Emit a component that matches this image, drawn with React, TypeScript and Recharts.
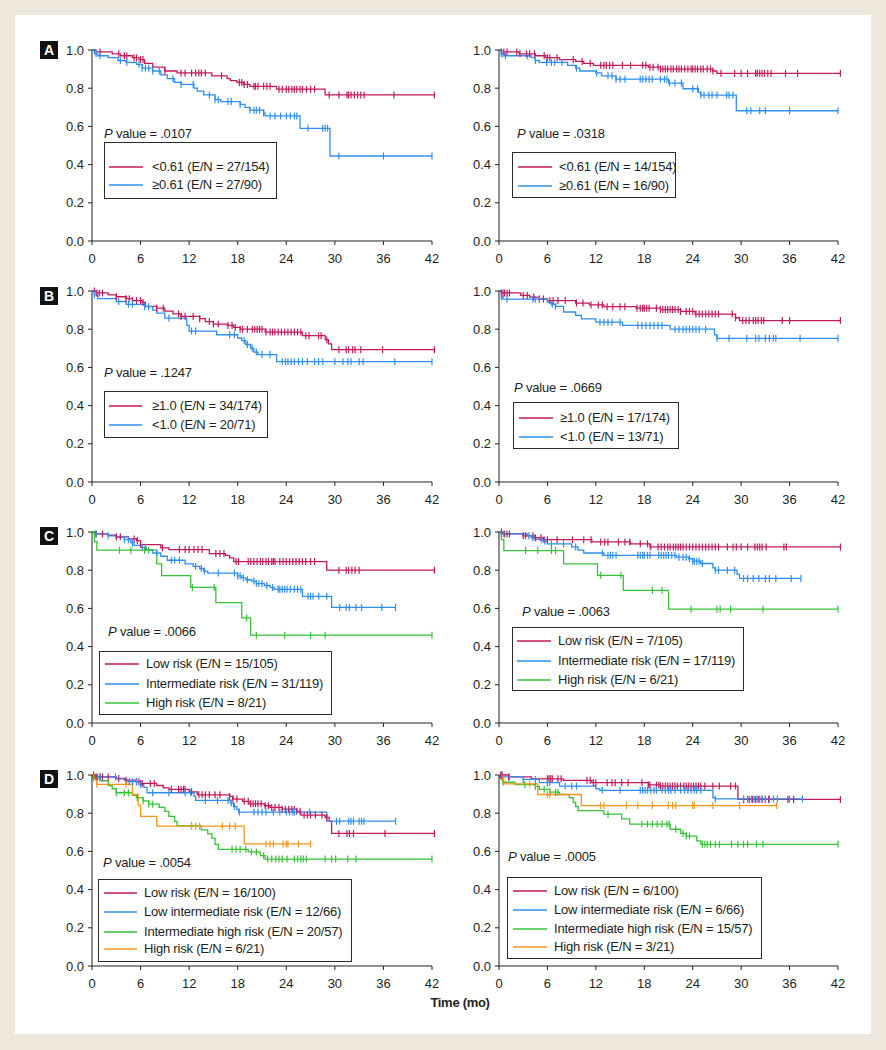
import React from 'react';
import { LineChart, Line, XAxis, YAxis, ReferenceLine } from 'recharts';

// Kaplan-Meier curves: [time (mo), survival] at each drop, plus censor times
const aLowL_steps = [[0.5,0.99],[2.5,0.98],[3.5,0.97],[5,0.96],[5.8,0.95],[6.5,0.93],[7.5,0.91],[9,0.89],[10.5,0.88],[14.8,0.865],[16.7,0.85],[17.1,0.84],[17.9,0.83],[18.7,0.82],[19.5,0.81],[22.8,0.795],[28.8,0.765]];
const aLowL_cens = [1,3.3,4,4.3,5.2,5.5,6,6.3,9,11,11.5,12.3,12.8,13.2,13.5,14,16,18.2,18.5,18.8,19.2,20,20.2,20.5,21.2,21.6,22,23.1,23.5,24,24.3,24.7,25,25.3,25.7,26,26.5,27,27.5,29.3,30.5,31.5,31.7,32,32.4,32.8,33.2,33.6,37.3,42.3];
const aHighL_steps = [[0.3,0.98],[0.7,0.97],[2,0.96],[3.2,0.945],[4.2,0.935],[5.5,0.925],[6.2,0.905],[7.5,0.89],[8.5,0.87],[9.3,0.85],[10.2,0.83],[11,0.82],[12.6,0.8],[13,0.785],[13.8,0.765],[15.2,0.74],[15.9,0.73],[18.3,0.715],[18.9,0.7],[19.5,0.685],[21.2,0.67],[21.4,0.655],[25.7,0.59],[29.4,0.445]];
const aHighL_cens = [0.5,1,3.5,4.3,5.8,6.2,6.6,7,7.5,8.3,10,11,12.5,14.5,15.2,15.6,16.8,17.2,18.3,19.5,20,20.3,20.7,21.2,22,22.6,23.3,24,24.5,25,25.3,26.7,28.5,28.8,29.1,30.5,36,42];

const aLowR_steps = [[0.3,0.99],[2.5,0.98],[4.5,0.97],[5.8,0.96],[7.5,0.95],[9.5,0.94],[10.5,0.93],[11.7,0.92],[18.5,0.91],[20,0.9],[26.5,0.89],[27,0.878]];
const aLowR_cens = [0.3,0.6,1,2.2,2.6,3.4,3.8,4.4,5.6,6,6.3,7.2,9.2,10.3,11.3,12.6,13,13.3,13.7,14.1,15.3,16.3,17.8,18.2,18.7,19.1,19.7,20,20.3,20.6,20.9,21.3,21.6,22,22.3,22.6,23,23.4,23.8,24,24.3,24.6,25,25.3,25.8,26.2,26.5,27.5,29.2,30,30.8,31.8,32,32.3,32.6,32.9,33.3,33.7,35.5,37,42.3];
const aHighR_steps = [[0.3,0.98],[0.7,0.97],[4,0.96],[4.5,0.945],[5,0.935],[8.5,0.92],[9.5,0.905],[10,0.89],[12,0.88],[12.7,0.865],[14.5,0.847],[21,0.827],[22.8,0.797],[24.7,0.778],[25,0.764],[29.4,0.682]];
const aHighR_cens = [0.3,0.5,0.8,3.5,4.5,5.9,6.5,6.9,7.8,9.6,12.1,13.5,14,14.5,15,15.6,17.5,17.8,18.2,18.6,19,20,20.5,20.8,21.1,21.8,22.6,24,24.6,25,25.4,26,26.4,27,28.2,28.5,29,30.7,31.2,32.3,33,36,42];

const bHighL_steps = [[0.5,0.99],[2,0.98],[3,0.97],[4.2,0.96],[5,0.95],[6.2,0.94],[6.6,0.92],[8,0.91],[9,0.895],[10,0.88],[11,0.867],[13.3,0.855],[14,0.84],[15,0.827],[16.7,0.82],[17.5,0.81],[18.3,0.8],[21.4,0.785],[26,0.766],[28.8,0.745],[29.2,0.723],[29.6,0.693]];
const bHighL_cens = [0.3,0.6,0.9,1.3,3,4.2,4.6,5,5.5,6,6.3,8,8.8,10.7,11,11.5,12.5,13.3,14.5,15,15.6,16.8,17.3,17.7,18.3,18.6,19.2,19.8,20.1,20.4,20.7,21,21.5,22,22.3,22.6,23,23.4,23.8,24.2,24.6,25,25.4,25.8,26.4,26.8,28,28.3,29,30.5,31.4,31.7,32.2,32.5,33.2,35.9,42.3];
const bLowL_steps = [[0.3,0.98],[0.7,0.96],[3,0.945],[4.2,0.93],[6.5,0.918],[7.5,0.9],[8,0.884],[9,0.858],[11.7,0.82],[12,0.79],[15.4,0.771],[18,0.754],[18.5,0.74],[19,0.72],[19.6,0.7],[20,0.68],[20.5,0.667],[22.8,0.63]];
const bLowL_cens = [0.3,3.3,4.5,5,6.5,7,9.5,12.3,12.8,17,17.6,18.8,19.2,19.8,20.3,21,22,23.5,23.9,24.2,24.6,25,25.5,26,26.6,27.5,28,28.5,30,31,31.6,32,33,33.5,37.4,42];

const bHighR_steps = [[0.3,0.99],[2.7,0.977],[3.8,0.968],[5,0.958],[6,0.95],[9.5,0.937],[11.2,0.927],[13,0.918],[17,0.91],[20,0.903],[22.5,0.893],[24.3,0.879],[29.3,0.86],[29.8,0.845]];
const bHighR_cens = [0.3,0.5,0.7,1,1.3,3,3.5,4.3,5,5.5,6.3,6.7,7.3,8.2,9.6,10.4,11.4,12.3,12.8,13.4,14.1,15,15.6,17.1,17.5,17.8,18,18.3,18.6,19.5,20,20.3,20.6,20.9,21.2,21.5,21.8,22.2,22.5,23.2,23.6,24,24.4,24.8,25.2,25.6,26,26.4,26.8,27.2,28.9,29.3,30.2,30.6,31,31.5,31.8,32.1,32.5,32.8,35.1,36,42.3];
const bLowR_steps = [[0.3,0.97],[0.5,0.957],[6,0.94],[6.5,0.93],[7,0.92],[8,0.89],[9.5,0.872],[10.2,0.854],[12,0.837],[15.3,0.82],[21.2,0.8],[26.7,0.77],[27,0.752]];
const bLowR_cens = [0.3,1,4.2,4.5,5,6.6,7,12.5,13,13.5,14,15,17.2,17.7,18.2,18.7,19.2,19.7,20.2,21.8,22.3,22.8,23.2,23.6,24,24.4,24.8,25.6,27,28.5,30.7,31.8,32.2,33,33.5,34,34.3,37.3,42];

const cLowL_steps = [[0.5,0.99],[2,0.983],[3,0.975],[4.5,0.964],[5.5,0.955],[6,0.934],[8.5,0.917],[9.5,0.908],[14.5,0.887],[16.5,0.878],[17,0.865],[17.5,0.845],[29,0.8]];
const cLowL_cens = [0.5,1.3,3,3.5,5.2,5.6,6,8.7,10.8,11.5,12,12.6,13.1,13.6,15.3,15.8,16.3,17.8,18.1,19.3,19.6,20,20.4,20.8,21.1,21.5,21.8,22.2,22.4,22.6,23.2,23.6,24,24.4,24.8,25.2,25.6,26,26.4,27,27.5,30.5,31.4,31.7,32.1,32.5,33,42.3];
const cIntL_steps = [[0.3,0.99],[2,0.98],[3,0.972],[4,0.96],[4.8,0.943],[5.2,0.93],[6,0.92],[6.7,0.908],[7.5,0.89],[8.5,0.873],[9.3,0.852],[11.5,0.833],[12.5,0.82],[13.3,0.809],[13.8,0.795],[14.3,0.785],[18,0.77],[18.5,0.76],[19,0.75],[19.7,0.743],[20.3,0.73],[21.3,0.72],[22,0.71],[22.5,0.7],[26,0.663],[29.6,0.605]];
const cIntL_cens = [0.5,2,4,4.5,5,6.2,6.6,8,9.8,10.2,10.8,12.8,13.5,13.9,15.6,17.6,18,18.3,18.7,19.2,20,20.3,20.6,21,21.6,22.3,23,23.2,23.5,23.8,24.1,24.5,25,25.4,25.8,26.7,27,27.3,28,29,30.6,31.4,31.8,32.6,33.3,35.8,37.5];
const cHighL_steps = [[0.3,0.95],[0.6,0.905],[8,0.833],[8.6,0.772],[12.2,0.71],[15.3,0.63],[18.5,0.55],[19.6,0.46]];
const cHighL_cens = [3.4,4.8,6.5,7,12.4,15.1,19.1,20.3,23.8,27,28.8,42];

const cLowR_steps = [[0.5,0.99],[3,0.98],[4.5,0.97],[5.5,0.96],[11.5,0.948],[16.3,0.938],[18.7,0.922]];
const cLowR_cens = [0.3,0.7,1,1.3,3,3.3,4.2,4.5,5.2,5.6,6,7.2,9.1,10.5,11.4,12.6,13.1,13.5,14.8,15.6,16.2,17.5,18.4,18.8,19.7,20.1,20.5,20.9,21.2,21.6,21.9,22.2,22.5,22.8,23.2,23.6,24,24.4,24.8,25.2,25.6,26,26.4,26.8,27.2,28.3,29,29.4,30,30.8,31.7,32,32.3,32.6,33.1,35.3,35.6,42.3];
const cIntR_steps = [[0.3,0.99],[3.5,0.98],[4,0.97],[4.5,0.96],[5.5,0.951],[6,0.938],[9,0.922],[9.8,0.905],[10.5,0.89],[13,0.878],[22,0.868],[23.5,0.86],[24,0.847],[25,0.835],[26.5,0.812],[26.8,0.8],[29.5,0.778],[29.8,0.757]];
const cIntR_cens = [0.3,0.6,3.7,4.2,5.3,5.7,6.5,8,9.5,12.8,13.5,13.8,14.1,14.5,17.2,17.5,17.8,18,18.4,18.7,19.8,20.1,20.4,20.7,21,21.4,21.8,22.3,22.8,23.2,23.6,24,24.2,24.5,24.8,25.2,26.8,27.2,28.3,29.2,30.3,30.8,31.5,32.2,33,33.5,34.3,36.2,37.4];
const cHighR_steps = [[0.3,0.96],[0.6,0.903],[8,0.833],[12.2,0.773],[15.4,0.694],[21,0.596]];
const cHighR_cens = [3.3,4.8,6.5,7,12.6,15.1,19,20.2,23.8,27,27.4,28.7,32.7,42];

const dLowL_steps = [[0.5,0.99],[3,0.982],[4,0.973],[5.5,0.965],[6,0.956],[8,0.945],[8.8,0.933],[9.5,0.925],[12,0.912],[13,0.896],[17,0.888],[17.4,0.874],[18.6,0.862],[19.4,0.849],[21.3,0.839],[22,0.83],[23.5,0.821],[25.3,0.81],[25.8,0.79],[28.8,0.778],[29.3,0.757],[29.6,0.694]];
const dLowL_cens = [0.2,0.5,1,1.3,2,3.3,4.2,5.5,5.8,6,6.2,7.2,7.7,9.8,10.7,11,11.3,11.5,12.3,13.2,13.6,14,14.5,15.2,15.8,17,17.4,17.9,18.8,19.3,19.6,19.9,20.2,20.5,20.9,21.4,21.8,22.2,22.6,23.1,23.5,23.9,24.3,24.7,25,25.3,25.7,26.2,26.6,27,27.6,28.4,29,30.5,31.5,31.8,32.3,36.2,42.3];
const dLowIntL_steps = [[0.5,0.99],[3,0.98],[4.3,0.965],[6,0.95],[6.4,0.935],[6.8,0.907],[12.6,0.888],[12.8,0.867],[17.1,0.853],[17.5,0.835],[17.9,0.82],[18.1,0.806],[29,0.758]];
const dLowIntL_cens = [0.7,1,2.9,4.6,5,5.5,6,7.5,9.5,11.5,12.2,14,15.5,16.8,17.2,17.6,18.2,20,20.5,21,21.5,22.4,23.2,24,24.4,24.8,25,26.9,30.2,30.6,31.7,32,32.3,33,33.3,33.6,37.5];
const dIntHighL_steps = [[0.1,0.986],[1,0.97],[2,0.945],[2.5,0.928],[3,0.907],[5,0.893],[5.5,0.882],[6.3,0.865],[7,0.847],[8.3,0.83],[9,0.81],[9.5,0.783],[10.2,0.757],[10.5,0.735],[13.5,0.713],[14.3,0.692],[14.8,0.67],[15.2,0.637],[15.6,0.611],[19.3,0.597],[20.8,0.578],[21.4,0.56]];
const dIntHighL_cens = [0.2,3,4,4.5,5.6,6.3,7,7.5,12.3,17.3,17.8,18.3,19,19.7,20.3,21.2,21.7,22.2,22.7,23.1,23.5,24.1,25,25.4,25.8,26.1,26.5,28.8,29.6,30.1,31.6,32.6,42];
const dHighL_steps = [[0.3,0.98],[0.6,0.951],[5,0.898],[5.7,0.842],[6,0.783],[8,0.732],[18.8,0.639]];
const dHighL_cens = [0.6,4.2,12.3,12.8,13.3,16.1,17,17.7,21.5,22,22.4,23.6,24,24.2,25.5,27];

const dLowR_steps = [[1.2,0.99],[4,0.98],[8,0.972],[11.5,0.96],[18.5,0.948],[20,0.942],[29.6,0.872]];
const dLowR_cens = [0.2,0.4,1.2,6,6.2,6.4,6.6,7.3,7.7,10.9,11.3,11.7,12,13.4,14,14.4,15.2,16,17.7,18.5,18.7,19.5,19.8,20,20.3,20.6,20.9,21.2,21.5,21.8,22.1,22.5,22.9,23.2,23.5,23.8,24.1,24.4,24.7,25,25.5,26.5,27.3,28.7,29.3,30.3,31,31.4,31.8,32.2,32.6,33,33.4,35.8,36.5,42.3];
const dLowIntR_steps = [[0.5,0.99],[3,0.977],[5,0.96],[7.5,0.942],[12,0.928],[12.5,0.92],[26.5,0.88],[26.8,0.875]];
const dLowIntR_cens = [0.3,1.3,3,4.5,6,6.3,8.2,9,9.6,12.8,15,17.5,17.8,18.1,18.4,18.8,19.2,19.5,20.2,20.6,21,21.3,21.8,22.5,23,23.4,23.8,24.2,24.5,25,26.8,30.3,30.8,31.3,31.6,32,32.3,32.6,33,33.5,34,34.5,36,37.6];
const dIntHighR_steps = [[0.1,0.985],[0.3,0.975],[0.5,0.962],[2,0.95],[4.5,0.94],[5,0.925],[6.3,0.91],[7.5,0.898],[8.7,0.881],[9.2,0.856],[9.5,0.835],[9.8,0.814],[13,0.795],[15.2,0.77],[16.2,0.743],[21.2,0.716],[22.5,0.694],[23.2,0.68],[24.5,0.655],[25,0.637]];
const dIntHighR_cens = [0.5,3.2,4.5,5.6,6.3,7,7.3,13.5,17.7,18.4,19,19.6,20.2,20.8,21.1,21.9,22.8,23.2,23.6,25.2,25.5,25.8,26.2,26.8,27.3,28.8,29.6,30.3,30.8,31.9,32.7,42];
const dHighR_steps = [[0.3,0.98],[0.6,0.954],[4.8,0.898],[10.2,0.84]];
const dHighR_cens = [0.5,3.8,6,6.3,12.6,13,15.8,17.2,19,21,21.5,21.9,24,24.2,26.5,29.8,34.4];

const xTicks = [0, 6, 12, 18, 24, 30, 36, 42];
const yTicks = [0, 0.2, 0.4, 0.6, 0.8, 1.0];

const MAGENTA = '#c21a5c';
const BLUE = '#2f8ff0';
const GREEN = '#37c337';
const ORANGE = '#f7941d';
const INK = '#231f20';
const FONT = "'Liberation Sans', Arial, sans-serif";

const PLOT_H = 191;
const Y_W = 45;
const M_TOP = 10;
const X_H = 30;
const X_MAX = 42.5;

interface Point { t: number; s: number; c: boolean }
interface Series { name: string; color: string; steps: number[][]; cens: number[] }
interface LegendBox { x1: number; y1: number; x2: number; y2: number; rows: number[]; lineX: number[]; textX: number }
interface PanelSpec {
  id: string;
  plotLeft: number;
  plotTop: number;
  w42: number;
  pValue: string;
  pPos: { x: number; cy: number };
  legend: LegendBox;
  series: Series[];
}

const buildCurve = (steps: number[][], cens: number[]): Point[] => {
  const pts: Point[] = [{ t: 0, s: 1, c: false }];
  steps.forEach(([t, s]) => pts.push({ t, s, c: false }));
  cens.forEach((t) => {
    let s = 1;
    steps.forEach(([st, sv]) => {
      if (st <= t) s = sv;
    });
    pts.push({ t, s, c: true });
  });
  return pts.sort((a, b) => a.t - b.t);
};

const censorDot = (color: string) => (props: any) => {
  const { cx, cy, payload, index } = props;
  if (!payload?.c || cx == null || cy == null) return <g key={`n-${index}`} />;
  return <line key={`c-${index}`} x1={cx} x2={cx} y1={cy - 3.5} y2={cy + 3.5} stroke={color} strokeWidth={1.2} />;
};

const panels: PanelSpec[] = [
  {
    id: 'aL', plotLeft: 92, plotTop: 50, w42: 340, pValue: '.0107', pPos: { x: 104, cy: 134 },
    legend: { x1: 104, y1: 142, x2: 277, y2: 199, rows: [167, 185], lineX: [109, 143], textX: 152 },
    series: [
      { name: '<0.61 (E/N = 27/154)', color: MAGENTA, steps: aLowL_steps, cens: aLowL_cens },
      { name: '\u22650.61 (E/N = 27/90)', color: BLUE, steps: aHighL_steps, cens: aHighL_cens },
    ],
  },
  {
    id: 'aR', plotLeft: 499, plotTop: 50, w42: 339, pValue: '.0318', pPos: { x: 517, cy: 134 },
    legend: { x1: 512, y1: 152, x2: 676, y2: 198, rows: [167, 186], lineX: [518, 552], textX: 559 },
    series: [
      { name: '<0.61 (E/N = 14/154)', color: MAGENTA, steps: aLowR_steps, cens: aLowR_cens },
      { name: '\u22650.61 (E/N = 16/90)', color: BLUE, steps: aHighR_steps, cens: aHighR_cens },
    ],
  },
  {
    id: 'bL', plotLeft: 92, plotTop: 291, w42: 340, pValue: '.1247', pPos: { x: 104, cy: 373 },
    legend: { x1: 104, y1: 391, x2: 268, y2: 438, rows: [406, 425], lineX: [109, 142], textX: 152 },
    series: [
      { name: '\u22651.0 (E/N = 34/174)', color: MAGENTA, steps: bHighL_steps, cens: bHighL_cens },
      { name: '<1.0 (E/N = 20/71)', color: BLUE, steps: bLowL_steps, cens: bLowL_cens },
    ],
  },
  {
    id: 'bR', plotLeft: 499, plotTop: 291, w42: 339, pValue: '.0669', pPos: { x: 514, cy: 388 },
    legend: { x1: 513, y1: 402, x2: 679, y2: 449, rows: [418, 437], lineX: [519, 553], textX: 560 },
    series: [
      { name: '\u22651.0 (E/N = 17/174)', color: MAGENTA, steps: bHighR_steps, cens: bHighR_cens },
      { name: '<1.0 (E/N = 13/71)', color: BLUE, steps: bLowR_steps, cens: bLowR_cens },
    ],
  },
  {
    id: 'cL', plotLeft: 92, plotTop: 532, w42: 340, pValue: '.0066', pPos: { x: 108, cy: 632 },
    legend: { x1: 99, y1: 651, x2: 332, y2: 715, rows: [664, 684, 703], lineX: [105, 139], textX: 146 },
    series: [
      { name: 'Low risk (E/N = 15/105)', color: MAGENTA, steps: cLowL_steps, cens: cLowL_cens },
      { name: 'Intermediate risk (E/N = 31/119)', color: BLUE, steps: cIntL_steps, cens: cIntL_cens },
      { name: 'High risk (E/N = 8/21)', color: GREEN, steps: cHighL_steps, cens: cHighL_cens },
    ],
  },
  {
    id: 'cR', plotLeft: 499, plotTop: 532, w42: 339, pValue: '.0063', pPos: { x: 522, cy: 612 },
    legend: { x1: 512, y1: 627, x2: 744, y2: 691, rows: [641, 661, 680], lineX: [517, 551], textX: 558 },
    series: [
      { name: 'Low risk (E/N = 7/105)', color: MAGENTA, steps: cLowR_steps, cens: cLowR_cens },
      { name: 'Intermediate risk (E/N = 17/119)', color: BLUE, steps: cIntR_steps, cens: cIntR_cens },
      { name: 'High risk (E/N = 6/21)', color: GREEN, steps: cHighR_steps, cens: cHighR_cens },
    ],
  },
  {
    id: 'dL', plotLeft: 92, plotTop: 775, w42: 340, pValue: '.0054', pPos: { x: 103, cy: 863 },
    legend: { x1: 98, y1: 879, x2: 352, y2: 962, rows: [893, 912, 932, 949], lineX: [104, 137], textX: 144 },
    series: [
      { name: 'Low risk (E/N = 16/100)', color: MAGENTA, steps: dLowL_steps, cens: dLowL_cens },
      { name: 'Low intermediate risk (E/N = 12/66)', color: BLUE, steps: dLowIntL_steps, cens: dLowIntL_cens },
      { name: 'Intermediate high risk (E/N = 20/57)', color: GREEN, steps: dIntHighL_steps, cens: dIntHighL_cens },
      { name: 'High risk (E/N = 6/21)', color: ORANGE, steps: dHighL_steps, cens: dHighL_cens },
    ],
  },
  {
    id: 'dR', plotLeft: 499, plotTop: 775, w42: 339, pValue: '.0005', pPos: { x: 508, cy: 857 },
    legend: { x1: 507, y1: 877, x2: 762, y2: 959, rows: [891, 910, 929, 947], lineX: [513, 547], textX: 554 },
    series: [
      { name: 'Low risk (E/N = 6/100)', color: MAGENTA, steps: dLowR_steps, cens: dLowR_cens },
      { name: 'Low intermediate risk (E/N = 6/66)', color: BLUE, steps: dLowIntR_steps, cens: dLowIntR_cens },
      { name: 'Intermediate high risk (E/N = 15/57)', color: GREEN, steps: dIntHighR_steps, cens: dIntHighR_cens },
      { name: 'High risk (E/N = 3/21)', color: ORANGE, steps: dHighR_steps, cens: dHighR_cens },
    ],
  },
];

const letters = [
  { text: 'A', top: 41 },
  { text: 'B', top: 287 },
  { text: 'C', top: 527 },
  { text: 'D', top: 770 },
];

const textStyle: React.CSSProperties = {
  position: 'absolute',
  fontSize: 13,
  letterSpacing: -0.2,
  color: INK,
  whiteSpace: 'nowrap',
  lineHeight: '16px',
};

const KMPanel: React.FC<{ spec: PanelSpec }> = ({ spec }) => {
  const plotW = (spec.w42 * X_MAX) / 42;
  const { legend } = spec;
  return (
    <>
      <div style={{ position: 'absolute', left: spec.plotLeft - Y_W, top: spec.plotTop - M_TOP }}>
        <LineChart
          width={Y_W + plotW + 4}
          height={M_TOP + PLOT_H + X_H}
          margin={{ top: M_TOP, right: 4, left: 0, bottom: 0 }}
          style={{ fontFamily: FONT }}
        >
          <XAxis
            type="number"
            dataKey="t"
            domain={[0, X_MAX]}
            allowDataOverflow
            ticks={xTicks}
            interval={0}
            axisLine={false}
            tickSize={4}
            tickMargin={9}
            height={X_H}
            tickLine={{ stroke: INK }}
            tick={{ fill: INK, fontSize: 13 }}
          />
          <YAxis
            type="number"
            domain={[0, 1]}
            ticks={yTicks}
            interval={0}
            width={Y_W}
            tickSize={4}
            tickMargin={4}
            tickFormatter={(v: number) => v.toFixed(1)}
            axisLine={{ stroke: INK }}
            tickLine={{ stroke: INK }}
            tick={{ fill: INK, fontSize: 13 }}
          />
          <ReferenceLine segment={[{ x: 0, y: 0 }, { x: 42, y: 0 }]} stroke={INK} strokeWidth={1} />
          {spec.series.map((s) => (
            <Line
              key={s.name}
              name={s.name}
              data={buildCurve(s.steps, s.cens)}
              dataKey="s"
              type="stepAfter"
              stroke={s.color}
              strokeWidth={1.3}
              dot={censorDot(s.color)}
              activeDot={false}
              isAnimationActive={false}
            />
          ))}
        </LineChart>
      </div>
      <div style={{ ...textStyle, left: spec.pPos.x, top: spec.pPos.cy - 8 }}>
        <i>P</i> value = {spec.pValue}
      </div>
      <div
        style={{
          position: 'absolute',
          left: legend.x1,
          top: legend.y1,
          width: legend.x2 - legend.x1,
          height: legend.y2 - legend.y1,
          border: '1.5px solid #2b2b2b',
          boxSizing: 'border-box',
        }}
      />
      {spec.series.map((s, i) => (
        <React.Fragment key={`lg-${s.name}`}>
          <svg
            width={legend.lineX[1] - legend.lineX[0]}
            height={4}
            style={{ position: 'absolute', left: legend.lineX[0], top: legend.rows[i] - 2 }}
          >
            <line x1={0} x2={legend.lineX[1] - legend.lineX[0]} y1={2} y2={2} stroke={s.color} strokeWidth={1.5} />
          </svg>
          <div style={{ ...textStyle, left: legend.textX, top: legend.rows[i] - 8 }}>{s.name}</div>
        </React.Fragment>
      ))}
    </>
  );
};

const App: React.FC = () => {
  return (
    <div
      style={{
        position: 'absolute',
        left: 0,
        top: 0,
        width: 886,
        height: 1050,
        background: '#ede7dc',
        fontFamily: FONT,
      }}
    >
      <div style={{ position: 'absolute', left: 15, top: 15, width: 856, height: 1019, background: '#ffffff' }} />
      {letters.map((l) => (
        <div
          key={l.text}
          style={{
            position: 'absolute',
            left: 40,
            top: l.top,
            width: 18,
            height: 18,
            background: '#111',
            color: '#fff',
            fontWeight: 700,
            fontSize: 14,
            lineHeight: '18px',
            textAlign: 'center',
          }}
        >
          {l.text}
        </div>
      ))}
      {panels.map((p) => (
        <KMPanel key={p.id} spec={p} />
      ))}
      <div
        style={{
          position: 'absolute',
          left: 410,
          width: 100,
          top: 994,
          textAlign: 'center',
          fontWeight: 700,
          fontSize: 13,
          letterSpacing: -0.3,
          color: INK,
          lineHeight: '18px',
        }}
      >
        Time (mo)
      </div>
    </div>
  );
};

export default App;
